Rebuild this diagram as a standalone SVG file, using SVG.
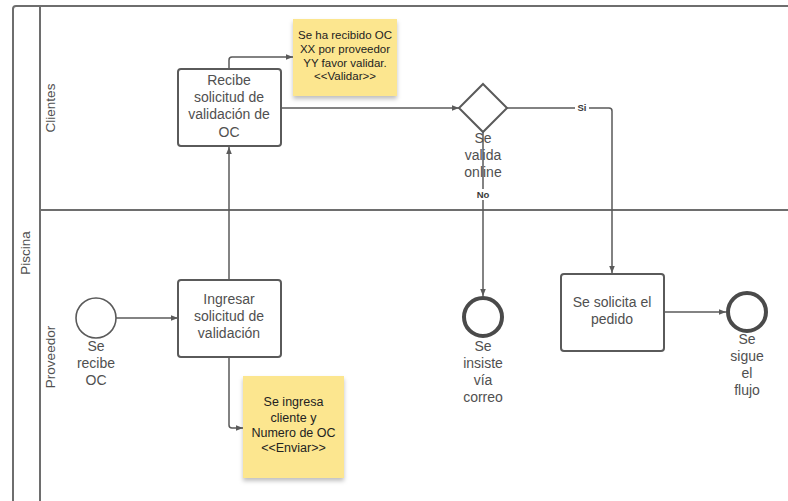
<svg xmlns="http://www.w3.org/2000/svg" width="788" height="501" viewBox="0 0 788 501">
<defs>
<style>
.pool{fill:none;stroke:#6e6e6e;stroke-width:2}
.task{fill:#fff;stroke:#5a5a5a;stroke-width:2}
.ev{fill:#fff;stroke:#5a5a5a;stroke-width:1.6}
.end{fill:#fff;stroke:#4a4a4a;stroke-width:4}
.note{fill:#fce68f}
.conn{fill:none;stroke:#5a5a5a;stroke-width:1.5}
.t{font-family:"Liberation Sans",Arial,sans-serif;font-size:14px;fill:#505050;text-anchor:middle}
.n{font-family:"Liberation Sans",Arial,sans-serif;font-size:11.5px;fill:#222;text-anchor:middle}
.n2{font-family:"Liberation Sans",Arial,sans-serif;font-size:12.5px;fill:#222;text-anchor:middle}
.lb{font-family:"Liberation Sans",Arial,sans-serif;font-size:9.5px;font-weight:bold;fill:#3a3a3a;text-anchor:middle}
.lane{font-family:"Liberation Sans",Arial,sans-serif;font-size:13.5px;fill:#505050;text-anchor:middle}
</style>
<marker id="arr" viewBox="0 0 10 10" refX="10" refY="5" markerWidth="7" markerHeight="7" orient="auto" markerUnits="userSpaceOnUse">
<path d="M0,1 L10,5 L0,9 Z" fill="#5a5a5a"/>
</marker>
<filter id="sh" x="-10%" y="-10%" width="120%" height="130%">
<feDropShadow dx="0" dy="3" stdDeviation="2" flood-color="#000" flood-opacity="0.25"/>
</filter>
</defs>
<rect width="788" height="501" fill="#fff"/>
<g id="pool">
<path class="pool" d="M13,501 V9 Q13,6 16,6 H788"/>
<line class="pool" x1="40" y1="6" x2="40" y2="501"/>
<line class="pool" x1="40" y1="210" x2="788" y2="210"/>
<text class="lane" transform="translate(30,253) rotate(-90)">Piscina</text>
<text class="lane" transform="translate(55,108) rotate(-90)">Clientes</text>
<text class="lane" transform="translate(55,357) rotate(-90)">Proveedor</text>
</g>
<g id="connectors">
<line class="conn" x1="116" y1="318" x2="178" y2="318" marker-end="url(#arr)"/>
<line class="conn" x1="229" y1="280" x2="229" y2="147" marker-end="url(#arr)"/>
<path class="conn" d="M229,357 V425 Q229,428 232,428 H243" marker-end="url(#arr)"/>
<path class="conn" d="M229,69 V60 Q229,57 232,57 H293" marker-end="url(#arr)"/>
<line class="conn" x1="281" y1="108" x2="459" y2="108" marker-end="url(#arr)"/>
<path class="conn" d="M507,108 H609 Q612,108 612,111 V273" marker-end="url(#arr)"/>
<line class="conn" x1="483" y1="132" x2="483" y2="296" marker-end="url(#arr)"/>
<line class="conn" x1="664" y1="312" x2="726" y2="312" marker-end="url(#arr)"/>
<rect x="575" y="102" width="14" height="11" fill="#fff"/>
<text class="lb" x="582" y="111">Si</text>
<rect x="474" y="189" width="18" height="11" fill="#fff"/>
<text class="lb" x="483" y="198">No</text>
</g>
<g id="start">
<circle class="ev" cx="96" cy="318" r="20"/>
<text class="t" x="96" y="351">Se</text>
<text class="t" x="96" y="368">recibe</text>
<text class="t" x="96" y="385">OC</text>
</g>
<g id="ingresar">
<rect class="task" x="178" y="280" width="103" height="77" rx="3"/>
<text class="t" x="229" y="304">Ingresar</text>
<text class="t" x="229" y="321">solicitud de</text>
<text class="t" x="229" y="338">validación</text>
</g>
<g id="note-enviar">
<rect class="note" x="243" y="376" width="101" height="102" filter="url(#sh)"/>
<text class="n2" x="293.5" y="406">Se ingresa</text>
<text class="n2" x="293.5" y="422">cliente y</text>
<text class="n2" x="293.5" y="437">Numero de OC</text>
<text class="n2" x="293.5" y="452">&lt;&lt;Enviar&gt;&gt;</text>
</g>
<g id="recibe">
<rect class="task" x="178" y="69" width="103" height="77" rx="3"/>
<text class="t" x="229" y="85">Recibe</text>
<text class="t" x="229" y="102">solicitud de</text>
<text class="t" x="229" y="119">validación de</text>
<text class="t" x="229" y="137">OC</text>
</g>
<g id="note-validar">
<rect class="note" x="293" y="19" width="104" height="77" filter="url(#sh)"/>
<text class="n" x="345" y="39">Se ha recibido OC</text>
<text class="n" x="345" y="53">XX por proveedor</text>
<text class="n" x="345" y="67">YY favor validar.</text>
<text class="n" x="345" y="80">&lt;&lt;Validar&gt;&gt;</text>
</g>
<g id="gateway">
<path class="task" d="M483,84 L507,108 L483,132 L459,108 Z"/>
<text class="t" x="483" y="143">Se</text>
<text class="t" x="483" y="160">valida</text>
<text class="t" x="483" y="177">online</text>
</g>
<g id="end-correo">
<circle class="end" cx="483" cy="317" r="19"/>
<text class="t" x="483" y="351">Se</text>
<text class="t" x="483" y="368">insiste</text>
<text class="t" x="483" y="385">vía</text>
<text class="t" x="483" y="402">correo</text>
</g>
<g id="solicita">
<rect class="task" x="561" y="274" width="103" height="77" rx="3"/>
<text class="t" x="612" y="307">Se solicita el</text>
<text class="t" x="612" y="324">pedido</text>
</g>
<g id="end-flujo">
<circle class="end" cx="747" cy="312" r="19"/>
<text class="t" x="747" y="344">Se</text>
<text class="t" x="747" y="361">sigue</text>
<text class="t" x="747" y="378">el</text>
<text class="t" x="747" y="395">flujo</text>
</g>
</svg>
